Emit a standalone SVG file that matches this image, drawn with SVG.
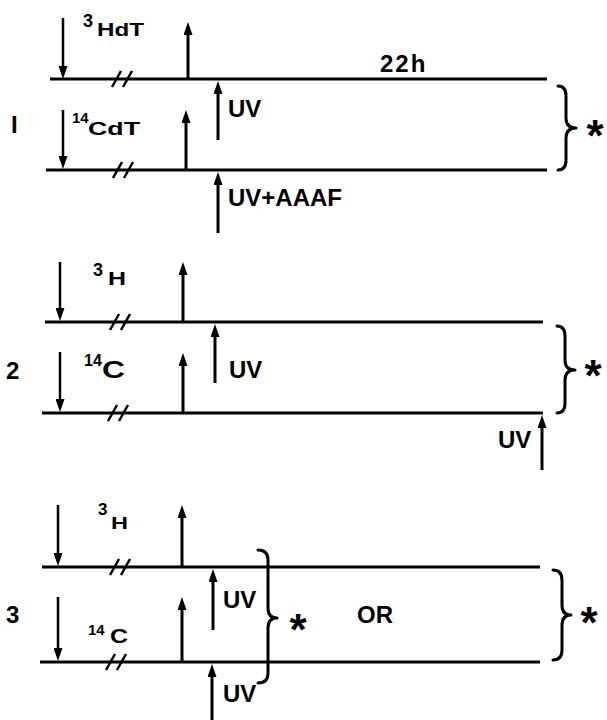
<svg xmlns="http://www.w3.org/2000/svg" width="607" height="720" viewBox="0 0 607 720">
<style>
text{font-family:"Liberation Sans",Arial,sans-serif;font-weight:bold;fill:#000}
.lab{font-size:24px}
.ast{font-size:44px}
.num{font-size:24px}
.strand{stroke:#000;stroke-width:3;fill:none}
.brk{stroke:#000;stroke-width:2.5;fill:none}
.brace{stroke:#000;stroke-width:3;fill:none;stroke-linejoin:round;stroke-linecap:round}
.arr{stroke:#000;stroke-width:3;fill:none;marker-end:url(#ah)}
.arrd{stroke:#000;stroke-width:2.5;fill:none;marker-end:url(#ah)}
</style>
<defs>
<marker id="ah" markerUnits="userSpaceOnUse" markerWidth="13" markerHeight="9" refX="4" refY="4.5" orient="auto">
<path d="M0,0 L13,4.5 L0,9 z" fill="#000"/>
</marker>
</defs>
<rect width="607" height="720" fill="#fff"/>

<g id="panel1">
<text class="num" x="11" y="133">I</text>
<line class="strand" x1="50" y1="79" x2="547" y2="79"/>
<line class="strand" x1="46" y1="170" x2="547" y2="170"/>
<path class="brk" d="M112,87 L121,71 M123,87 L132,71"/>
<path class="brk" d="M113,178 L122,162 M124,178 L133,162"/>
<text x="83" y="27" font-size="18">3</text>
<text x="97" y="36" font-size="18" textLength="47" lengthAdjust="spacingAndGlyphs">HdT</text>
<text x="72" y="123" font-size="15">14</text>
<text x="88" y="135" font-size="19" textLength="52" lengthAdjust="spacingAndGlyphs">CdT</text>
<text class="lab" x="380" y="72" letter-spacing="2">22h</text>
<text class="lab" x="228" y="117">UV</text>
<text class="lab" x="228" y="206">UV+AAAF</text>
<path class="brace" d="M558,86 Q566,86 566,96 L566,118 Q566,128 576,128 Q566,128 566,138 L566,160 Q566,170 558,170"/>
<text class="ast" x="595" y="151" text-anchor="middle">*</text>
</g>

<g id="panel2">
<text class="num" x="6" y="379">2</text>
<line class="strand" x1="45" y1="322" x2="543" y2="322"/>
<line class="strand" x1="42" y1="413" x2="543" y2="413"/>
<path class="brk" d="M110,330 L119,314 M121,330 L130,314"/>
<path class="brk" d="M108,421 L117,405 M119,421 L128,405"/>
<text x="93" y="276" font-size="18">3</text>
<text x="108" y="285" font-size="18" textLength="18" lengthAdjust="spacingAndGlyphs">H</text>
<text x="84" y="366" font-size="16">14</text>
<text x="102" y="378" font-size="24" textLength="23" lengthAdjust="spacingAndGlyphs">C</text>
<text class="lab" x="229" y="378">UV</text>
<text class="lab" x="498" y="448" font-size="23">UV</text>
<path class="brace" d="M557,326 Q565,326 565,336 L565,360 Q565,370 575,370 Q565,370 565,380 L565,403 Q565,413 557,413"/>
<text class="ast" x="593" y="391" text-anchor="middle">*</text>
</g>

<g id="panel3">
<text class="num" x="6" y="623">3</text>
<line class="strand" x1="42" y1="567" x2="540" y2="567"/>
<line class="strand" x1="40" y1="662" x2="540" y2="662"/>
<path class="brk" d="M110,575 L119,559 M121,575 L130,559"/>
<path class="brk" d="M106,670 L115,654 M117,670 L126,654"/>
<text x="98" y="515" font-size="17">3</text>
<text x="111" y="529" font-size="17" textLength="17" lengthAdjust="spacingAndGlyphs">H</text>
<text x="88" y="635" font-size="15">14</text>
<text x="110" y="643" font-size="20" textLength="18" lengthAdjust="spacingAndGlyphs">C</text>
<text class="lab" x="223" y="608">UV</text>
<text class="lab" x="223" y="702">UV</text>
<path class="brace" d="M258,550 Q268,550 268,560 L268,608 Q268,618 277,618 Q268,618 268,628 L268,673 Q268,683 258,683"/>
<text class="ast" x="298" y="645" text-anchor="middle">*</text>
<text class="lab" x="357" y="623">OR</text>
<path class="brace" d="M553,570 Q562,570 562,580 L562,605 Q562,615 571,615 Q562,615 562,625 L562,650 Q562,660 553,660"/>
<text class="ast" x="589" y="638" text-anchor="middle">*</text>
</g>

<g id="connectors">
<line class="arrd" x1="63" y1="18" x2="63" y2="70"/>
<line class="arrd" x1="63" y1="110" x2="63" y2="160"/>
<line class="arr" x1="188" y1="79" x2="188" y2="31"/>
<line class="arr" x1="186" y1="170" x2="186" y2="119"/>
<line class="arr" x1="218" y1="140" x2="218" y2="90"/>
<line class="arr" x1="218" y1="233" x2="218" y2="181"/>

<line class="arrd" x1="60" y1="262" x2="60" y2="312"/>
<line class="arrd" x1="60" y1="352" x2="60" y2="403"/>
<line class="arr" x1="183" y1="322" x2="183" y2="271"/>
<line class="arr" x1="183" y1="413" x2="183" y2="362"/>
<line class="arr" x1="215" y1="383" x2="215" y2="333"/>
<line class="arr" x1="542" y1="470" x2="542" y2="424"/>

<line class="arrd" x1="58" y1="505" x2="58" y2="557"/>
<line class="arrd" x1="58" y1="597" x2="58" y2="652"/>
<line class="arr" x1="182" y1="567" x2="182" y2="514"/>
<line class="arr" x1="182" y1="662" x2="182" y2="606"/>
<line class="arr" x1="213" y1="630" x2="213" y2="578"/>
<line class="arr" x1="212" y1="720" x2="212" y2="673"/>
</g>
</svg>
